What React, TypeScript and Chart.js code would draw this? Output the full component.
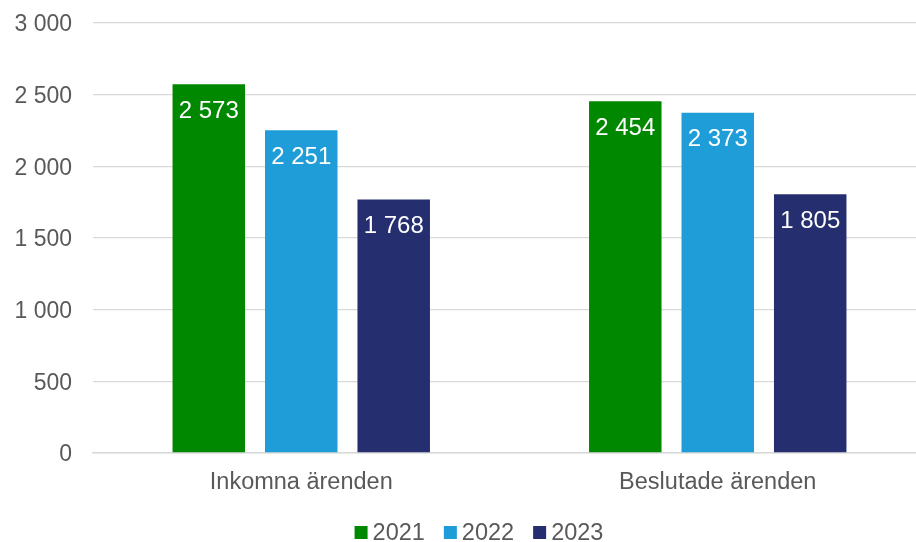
import React, { useEffect, useRef } from "react";
import { Chart, registerables } from "chart.js";

Chart.register(...registerables);

const categories = ["Inkomna ärenden", "Beslutade ärenden"];
const seriesLabels = ["2021", "2022", "2023"];
const values2021 = [2573, 2454];
const values2022 = [2251, 2373];
const values2023 = [1768, 1805];
const seriesColors = ["#008800", "#1e9dd8", "#252e6e"];
const yMax = 3000;
const yStep = 500;

const FONT = "'Liberation Sans', Arial, sans-serif";
const TEXT_GRAY = "#595959";

const fmt = (v: number) => {
  const s = Math.round(v).toString();
  return s.replace(/\B(?=(\d{3})+(?!\d))/g, " ");
};

const dataLabelPlugin = {
  id: "dataLabelPlugin",
  afterDatasetsDraw(chart: any) {
    const ctx = chart.ctx;
    ctx.save();
    ctx.font = `24px ${FONT}`;
    ctx.fillStyle = "#ffffff";
    ctx.textAlign = "center";
    ctx.textBaseline = "middle";
    chart.data.datasets.forEach((ds: any, di: number) => {
      const meta = chart.getDatasetMeta(di);
      meta.data.forEach((bar: any, i: number) => {
        ctx.fillText(fmt(ds.data[i]), bar.x, bar.y + 27);
      });
    });
    ctx.restore();
  },
};

const legendPlugin = {
  id: "customLegend",
  afterDraw(chart: any) {
    const ctx = chart.ctx;
    ctx.save();
    ctx.font = `23.5px ${FONT}`;
    ctx.textBaseline = "middle";
    ctx.textAlign = "left";
    const box = 13;
    const gap = 5;
    const itemGap = 19;
    const items = chart.data.datasets.map((ds: any) => ({
      label: ds.label,
      color: ds.backgroundColor,
      w: box + gap + ctx.measureText(ds.label).width,
    }));
    const total = items.reduce((a: number, it: any) => a + it.w, 0) + itemGap * (items.length - 1);
    let x = 479 - total / 2;
    const cy = 532.5;
    items.forEach((it: any) => {
      ctx.fillStyle = it.color;
      ctx.fillRect(x, cy - box / 2, box, box);
      ctx.fillStyle = TEXT_GRAY;
      ctx.fillText(it.label, x + box + gap, cy + 1);
      x += it.w + itemGap;
    });
    ctx.restore();
  },
};

export default function App() {
  const ref = useRef<HTMLCanvasElement | null>(null);
  useEffect(() => {
    if (!ref.current) return;
    const seriesValues = [values2021, values2022, values2023];
    const chart = new Chart(ref.current, {
      type: "bar",
      data: {
        labels: categories,
        datasets: seriesLabels.map((l, i) => ({
          label: l,
          data: seriesValues[i],
          backgroundColor: seriesColors[i],
          borderWidth: 0,
          barPercentage: 0.784,
          categoryPercentage: 0.666,
        })),
      },
      options: {
        animation: false,
        responsive: true,
        maintainAspectRatio: false,
        layout: { padding: { top: 23, left: 0, right: 0, bottom: 0 } },
        plugins: {
          legend: { display: false },
          tooltip: { enabled: false },
        },
        scales: {
          x: {
            grid: { display: false, drawTicks: false },
            border: { display: true, color: "#d9d9d9", width: 1.5 },
            ticks: {
              color: TEXT_GRAY,
              font: { family: FONT, size: 23.5 },
              padding: 15,
              maxRotation: 0,
            },
            afterFit: (scale: any) => {
              scale.height = 89;
              scale.paddingLeft = 0;
              scale.paddingRight = 0;
            },
          },
          y: {
            min: 0,
            max: yMax,
            grid: { color: "#d9d9d9", lineWidth: 1.3, drawTicks: false },
            border: { display: false },
            ticks: {
              stepSize: yStep,
              color: TEXT_GRAY,
              font: { family: FONT, size: 23 },
              padding: 21,
              labelOffset: 2,
              callback: (v: any) => fmt(Number(v)),
            },
            afterFit: (scale: any) => {
              scale.width = 93;
              scale.paddingTop = 0;
              scale.paddingBottom = 0;
            },
          },
        },
      },
      plugins: [dataLabelPlugin, legendPlugin],
    });
    return () => chart.destroy();
  }, []);
  return (
    <div style={{ position: "fixed", left: 0, top: 0, width: 916, height: 542, overflow: "hidden", background: "#fff" }}>
      <div style={{ position: "absolute", left: 0, top: 0, width: 926, height: 542 }}>
        <canvas ref={ref} />
      </div>
    </div>
  );
}
